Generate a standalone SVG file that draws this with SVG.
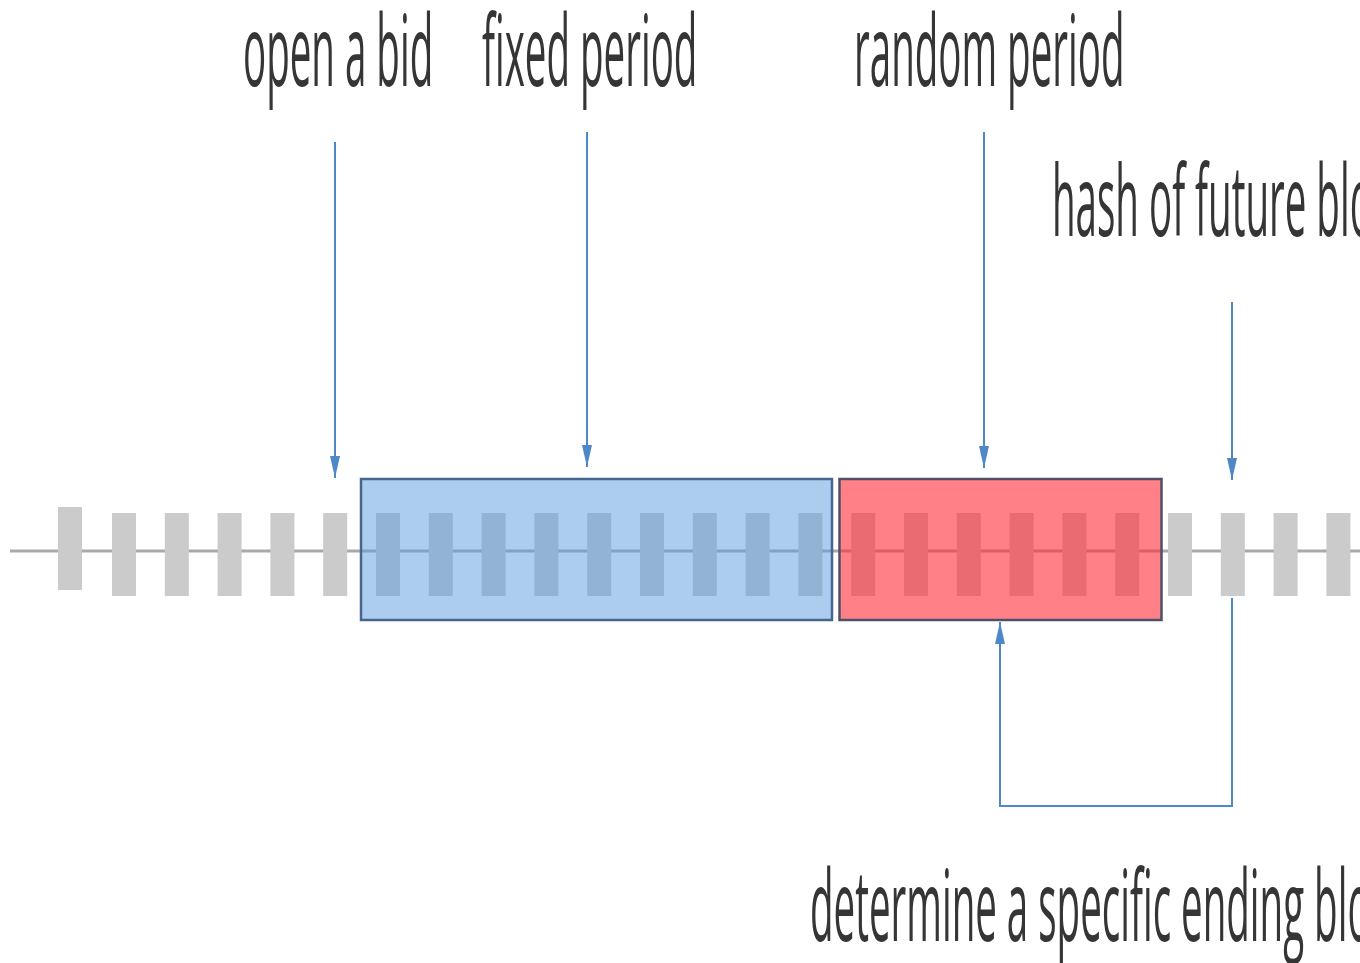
<svg xmlns="http://www.w3.org/2000/svg" width="1360" height="963" viewBox="0 0 1360 963">
<style>
.lbl{font-family:"Open Sans","Noto Sans","Liberation Sans",sans-serif;font-size:98px;fill:#353535}
.blk{fill:#cbcbcb}
.conn{fill:none;stroke:#4f88c6;stroke-width:2}
</style>
<defs>
<marker id="ah" viewBox="0 0 22 10" refX="22" refY="5" markerWidth="22" markerHeight="10" markerUnits="userSpaceOnUse" orient="auto">
<path d="M0,0 L22,5 L0,10 Z" fill="#4f88c6"/>
</marker>
</defs>
<rect width="1360" height="963" fill="#ffffff"/>
<g id="timeline">
<line x1="10" y1="551" x2="1360" y2="551" stroke="#a9a9a9" stroke-width="3"/>
<rect class="blk" x="58" y="507" width="24" height="83"/>
<rect class="blk" x="112" y="513" width="24" height="83"/>
<rect class="blk" x="164.8" y="513" width="24" height="83"/>
<rect class="blk" x="217.6" y="513" width="24" height="83"/>
<rect class="blk" x="270.4" y="513" width="24" height="83"/>
<rect class="blk" x="323.2" y="513" width="24" height="83"/>
<rect class="blk" x="376" y="513" width="24" height="83"/>
<rect class="blk" x="428.8" y="513" width="24" height="83"/>
<rect class="blk" x="481.6" y="513" width="24" height="83"/>
<rect class="blk" x="534.4" y="513" width="24" height="83"/>
<rect class="blk" x="587.2" y="513" width="24" height="83"/>
<rect class="blk" x="640" y="513" width="24" height="83"/>
<rect class="blk" x="692.8" y="513" width="24" height="83"/>
<rect class="blk" x="745.6" y="513" width="24" height="83"/>
<rect class="blk" x="798.4" y="513" width="24" height="83"/>
<rect class="blk" x="851.2" y="513" width="24" height="83"/>
<rect class="blk" x="904" y="513" width="24" height="83"/>
<rect class="blk" x="956.8" y="513" width="24" height="83"/>
<rect class="blk" x="1009.6" y="513" width="24" height="83"/>
<rect class="blk" x="1062.4" y="513" width="24" height="83"/>
<rect class="blk" x="1115.2" y="513" width="24" height="83"/>
<rect class="blk" x="1168" y="513" width="24" height="83"/>
<rect class="blk" x="1220.8" y="513" width="24" height="83"/>
<rect class="blk" x="1273.6" y="513" width="24" height="83"/>
<rect class="blk" x="1326.4" y="513" width="24" height="83"/>
</g>
<g id="fixed-box">
<rect x="361" y="479" width="471" height="141" fill="#5b9be0" fill-opacity="0.5" stroke="#46668f" stroke-width="2.5"/>
</g>
<g id="random-box">
<rect x="839.5" y="479" width="322" height="141" fill="#ff2b37" fill-opacity="0.6" stroke="#4f5068" stroke-width="2.5"/>
</g>
<g id="label-open"><text class="lbl" transform="translate(243,86) scale(0.393,1)">open a bid</text></g>
<g id="label-fixed"><text class="lbl" transform="translate(482,86) scale(0.393,1)">fixed period</text></g>
<g id="label-random"><text class="lbl" transform="translate(854,86) scale(0.393,1)">random period</text></g>
<g id="label-hash"><text class="lbl" transform="translate(1052,236) scale(0.393,1)">hash of future block</text></g>
<g id="label-determine"><text class="lbl" transform="translate(810,941) scale(0.393,1)">determine a specific ending block</text></g>
<g id="connectors">
<line class="conn" x1="335" y1="142" x2="335" y2="478" marker-end="url(#ah)"/>
<line class="conn" x1="587" y1="132" x2="587" y2="467" marker-end="url(#ah)"/>
<line class="conn" x1="984" y1="132" x2="984" y2="468" marker-end="url(#ah)"/>
<line class="conn" x1="1232" y1="302" x2="1232" y2="480" marker-end="url(#ah)"/>
<path class="conn" d="M1232,598 L1232,806 L1000,806 L1000,622" stroke-width="2.5" marker-end="url(#ah)"/>
</g>
</svg>
